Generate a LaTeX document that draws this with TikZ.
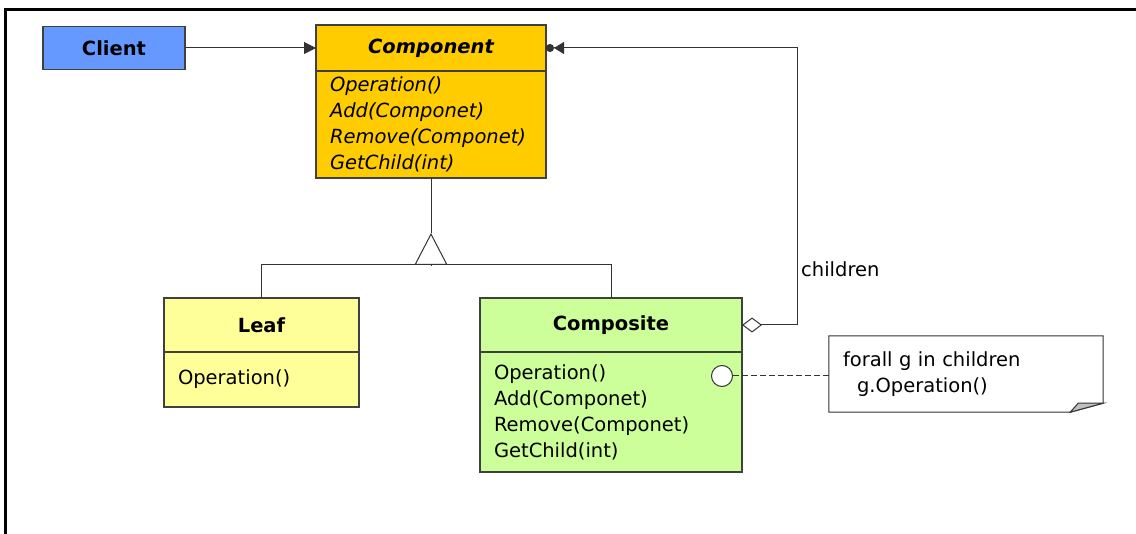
\documentclass[tikz,border=0pt]{standalone}
\usepackage{fontspec}
\setmainfont{DejaVu Sans}
\usetikzlibrary{positioning,arrows.meta}
\definecolor{clientblue}{HTML}{6699FF}
\definecolor{compgold}{HTML}{FFCC00}
\definecolor{leafyellow}{HTML}{FFFF99}
\definecolor{compgreen}{HTML}{CCFF99}
\newcommand\umlfont{\fontsize{19.5}{26}\selectfont}

\begin{document}
\begin{tikzpicture}[x=1pt,y=-1pt,font=\umlfont,
	box/.style={draw=black!75,line width=1.2pt,inner sep=0pt,outer sep=0pt},
	head/.style={box,font=\umlfont\bfseries},
	ops/.style={box,align=left,text width=#1,inner xsep=14pt},
	link/.style={draw=black!80,line width=1pt}]
	\useasboundingbox (0,0) rectangle (1136,534);
	\draw[line width=2.5pt] (1136,9.5) -- (5.5,9.5) -- (5.5,534);
	% classes
	\node[head,fill=clientblue,minimum width=142,minimum height=43] (client) at (114,48) {Client};
	\node[head,fill=compgold,minimum width=230,minimum height=46,font=\umlfont\bfseries\itshape] (comphead) at (431,48) {Component};
	\node[ops=202pt,fill=compgold,minimum height=107,font=\umlfont\itshape,below=0pt of comphead] (compops) {Operation()\\Add(Componet)\\Remove(Componet)\\GetChild(int)};
	\node[head,fill=leafyellow,minimum width=195,minimum height=54] (leafhead) at (261.5,325) {Leaf};
	\node[ops=167pt,fill=leafyellow,minimum height=55,below=0pt of leafhead] (leafops) {Operation()};
	\node[head,fill=compgreen,minimum width=262,minimum height=54] (coshead) at (611,325) {Composite};
	\node[ops=234pt,fill=compgreen,minimum height=120,below=0pt of coshead] (cosops) {Operation()\\Add(Componet)\\Remove(Componet)\\GetChild(int)};
	\node[circle,draw=black!80,fill=white,line width=1pt,minimum size=21,inner sep=0pt] (opdot) at (722,376) {};
	% note
	\node[align=left,inner xsep=14pt,inner ysep=0pt,text width=246pt,minimum height=76] (note) at (966,374) {forall g in children\\\hspace*{14pt}g.Operation()};
	\draw[link] (note.north west) -- (note.north east) -- ([yshift=9pt]note.south east) -- ([xshift=-33pt]note.south east) -- (note.south west) -- cycle;
	\filldraw[link,fill=black!25] ([xshift=-33pt]note.south east) -- ([xshift=-25pt,yshift=9pt]note.south east) -- ([yshift=9pt]note.south east) -- cycle;
	\node[anchor=west,inner sep=0pt] (rolelbl) at (801,269) {children};
	% connectors
	\draw[link,-{Triangle[length=12pt,width=12pt]}] (client.east) -- (comphead.west);
	\draw[link,{Circle[length=8pt]Triangle[length=10pt,width=12pt]}-{Diamond[open,length=20pt,width=15pt]}] (comphead.east) -- ++(251,0) |- (coshead.east);
	\draw[link] (compops.south) -- ++(0,55) coordinate (apex);
	\draw[link] (leafhead.north) -- ++(0,-33) coordinate (join) -| (coshead.north);
	\draw[link,-{Triangle[open,length=32pt,width=33pt]}] (apex |- join) -- (apex);
	\draw[link,dash pattern=on 6pt off 3pt] (opdot.east) -- (opdot.east -| note.west);
\end{tikzpicture}
\end{document}
